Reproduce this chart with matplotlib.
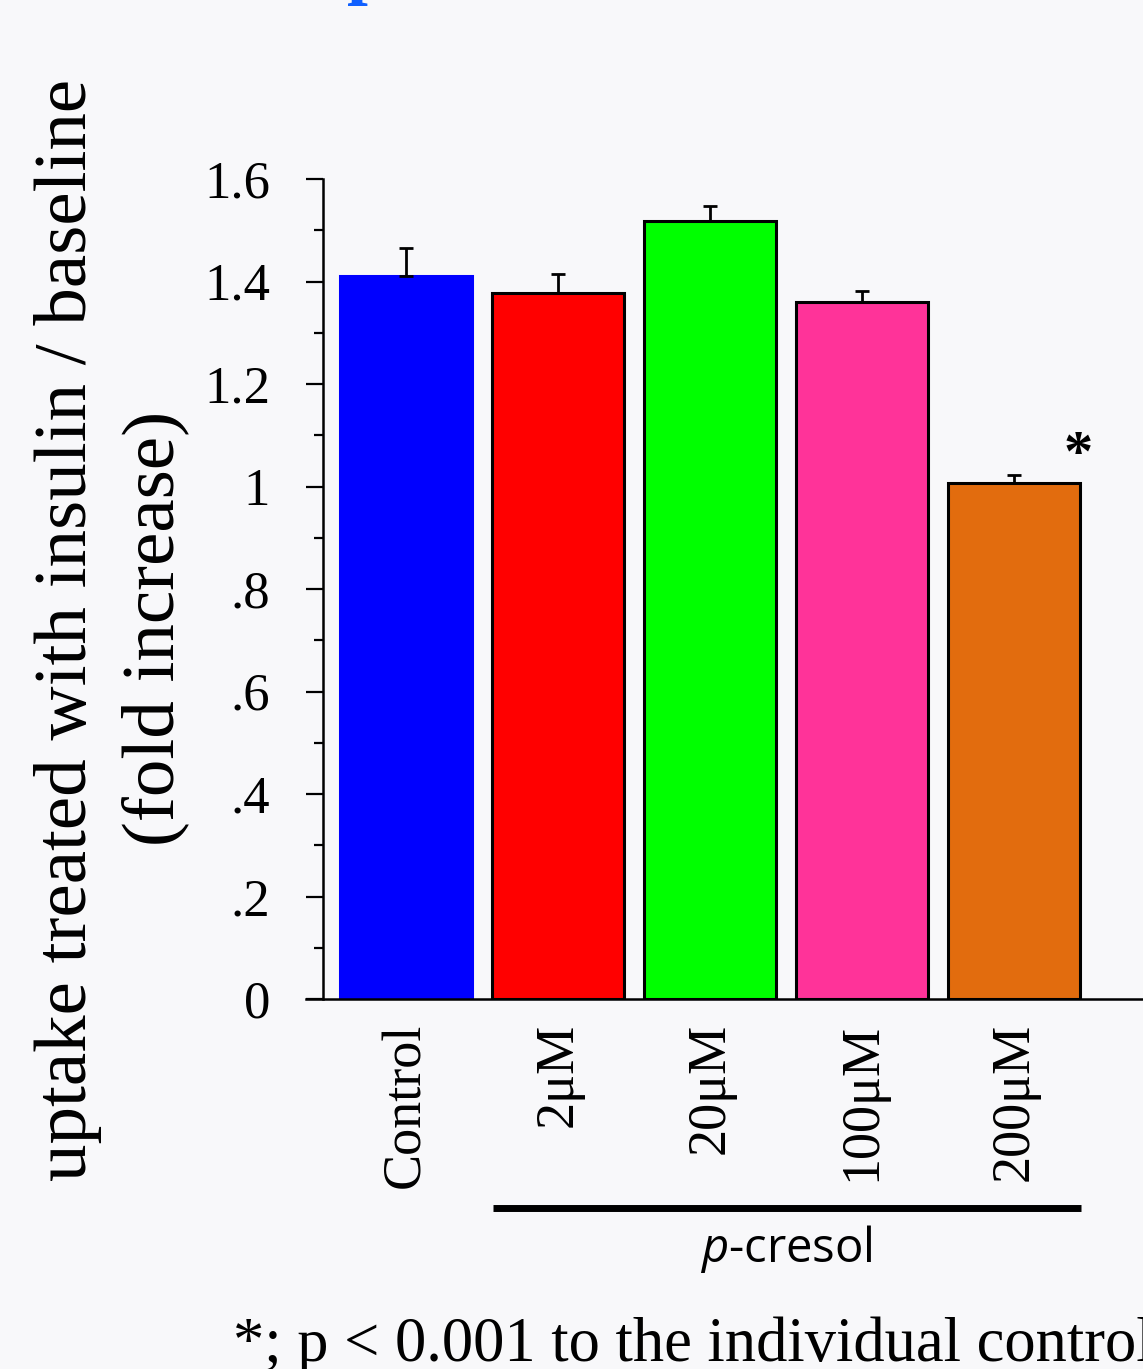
import matplotlib
matplotlib.use("Agg")
import matplotlib.pyplot as plt
from matplotlib.ticker import MultipleLocator, FixedLocator, FixedFormatter

# Data
categories = ["Control", "2\u03bcM", "20\u03bcM", "100\u03bcM", "200\u03bcM"]
values = [1.41, 1.377, 1.518, 1.36, 1.007]
errors = [0.056, 0.037, 0.030, 0.021, 0.015]
bar_colors = ["#0000ff", "#ff0000", "#00ff00", "#ff3399", "#e26c0e"]
edge_colors = ["#0000ff", "black", "black", "black", "black"]
y_ticks = [0, 0.2, 0.4, 0.6, 0.8, 1.0, 1.2, 1.4, 1.6]
y_tick_labels = ["0", ".2", ".4", ".6", ".8", "1", "1.2", "1.4", "1.6"]

plt.rcParams["mathtext.fontset"] = "custom"
plt.rcParams["mathtext.it"] = "Open Sans:italic"
plt.rcParams["mathtext.rm"] = "Open Sans"

W, H = 1143, 1369
bg = "#f8f8fa"
fig = plt.figure(figsize=(W / 100, H / 100), dpi=100, facecolor=bg)

# axes geometry in pixels
spine_x, y0_px, y16_px = 323, 999, 179
unit_px = 152.0
x_left = -(406 - spine_x) / unit_px
x_right = 5.2
ax_w_px = (x_right - x_left) * unit_px
ax = fig.add_axes([spine_x / W, (H - y0_px) / H, ax_w_px / W, (y0_px - y16_px) / H])
ax.set_facecolor(bg)

xs = list(range(len(categories)))
ax.bar(xs, values, width=0.87, color=bar_colors, edgecolor=edge_colors,
       linewidth=2.2, zorder=2)
ax.errorbar(xs, values, yerr=[[0] * len(errors), errors], fmt="none",
            ecolor="black", elinewidth=2, capsize=5, capthick=2, zorder=3)

ax.set_xlim(x_left, x_right)
ax.set_ylim(0, 1.6)

for s in ["top", "right"]:
    ax.spines[s].set_visible(False)
ax.spines["left"].set_linewidth(1.8)
ax.spines["bottom"].set_linewidth(1.8)
ax.spines["bottom"].set_bounds(x_left - 17 / unit_px, x_right)
ax.spines["bottom"].set_clip_on(False)

ax.yaxis.set_major_locator(FixedLocator(y_ticks))
ax.yaxis.set_major_formatter(FixedFormatter(y_tick_labels))
ax.yaxis.set_minor_locator(MultipleLocator(0.1))
ax.tick_params(axis="y", which="major", length=12, width=1.6, pad=26,
               labelsize=38, labelfontfamily="Liberation Serif")
ax.tick_params(axis="y", which="minor", length=6.5, width=1.6)

ax.set_xticks(xs)
ax.set_xticklabels(categories, rotation=90, fontsize=39, family="Liberation Serif")
ax.tick_params(axis="x", length=0, pad=17)

# significance marker
ax.text(4.42, 1.06, "*", fontsize=42, family="Liberation Serif",
        ha="center", va="center", fontweight="bold")

# y axis label (two lines)
fig.text(68 / W, 1 - 630 / H, "uptake treated with insulin / baseline",
         rotation=90, ha="center", va="center", fontsize=54,
         family="Liberation Serif")
fig.text(155 / W, 1 - 628 / H, "(fold increase)",
         rotation=90, ha="center", va="center", fontsize=54,
         family="Liberation Serif")

# treatment group bracket
fig.add_artist(plt.Line2D([493 / W, 1081 / W], [1 - 1208 / H, 1 - 1208 / H],
                          color="black", linewidth=5, solid_capstyle="butt"))
fig.text(786 / W, 1 - 1249 / H, r"$\mathit{p}$-cresol", ha="center", va="center",
         fontsize=34, family="Open Sans")

# footnote
fig.text(233 / W, 1 - 1361 / H, "*; p < 0.001 to the individual control",
         ha="left", va="baseline", fontsize=45, family="Liberation Serif")

# title (above visible area)
fig.text(347 / W, 1 + 10 / H, "p", ha="left", va="baseline", fontsize=54,
         family="Liberation Serif", fontweight="bold", color="#1060ff")

fig.savefig("out.png", dpi=100, facecolor=bg)
